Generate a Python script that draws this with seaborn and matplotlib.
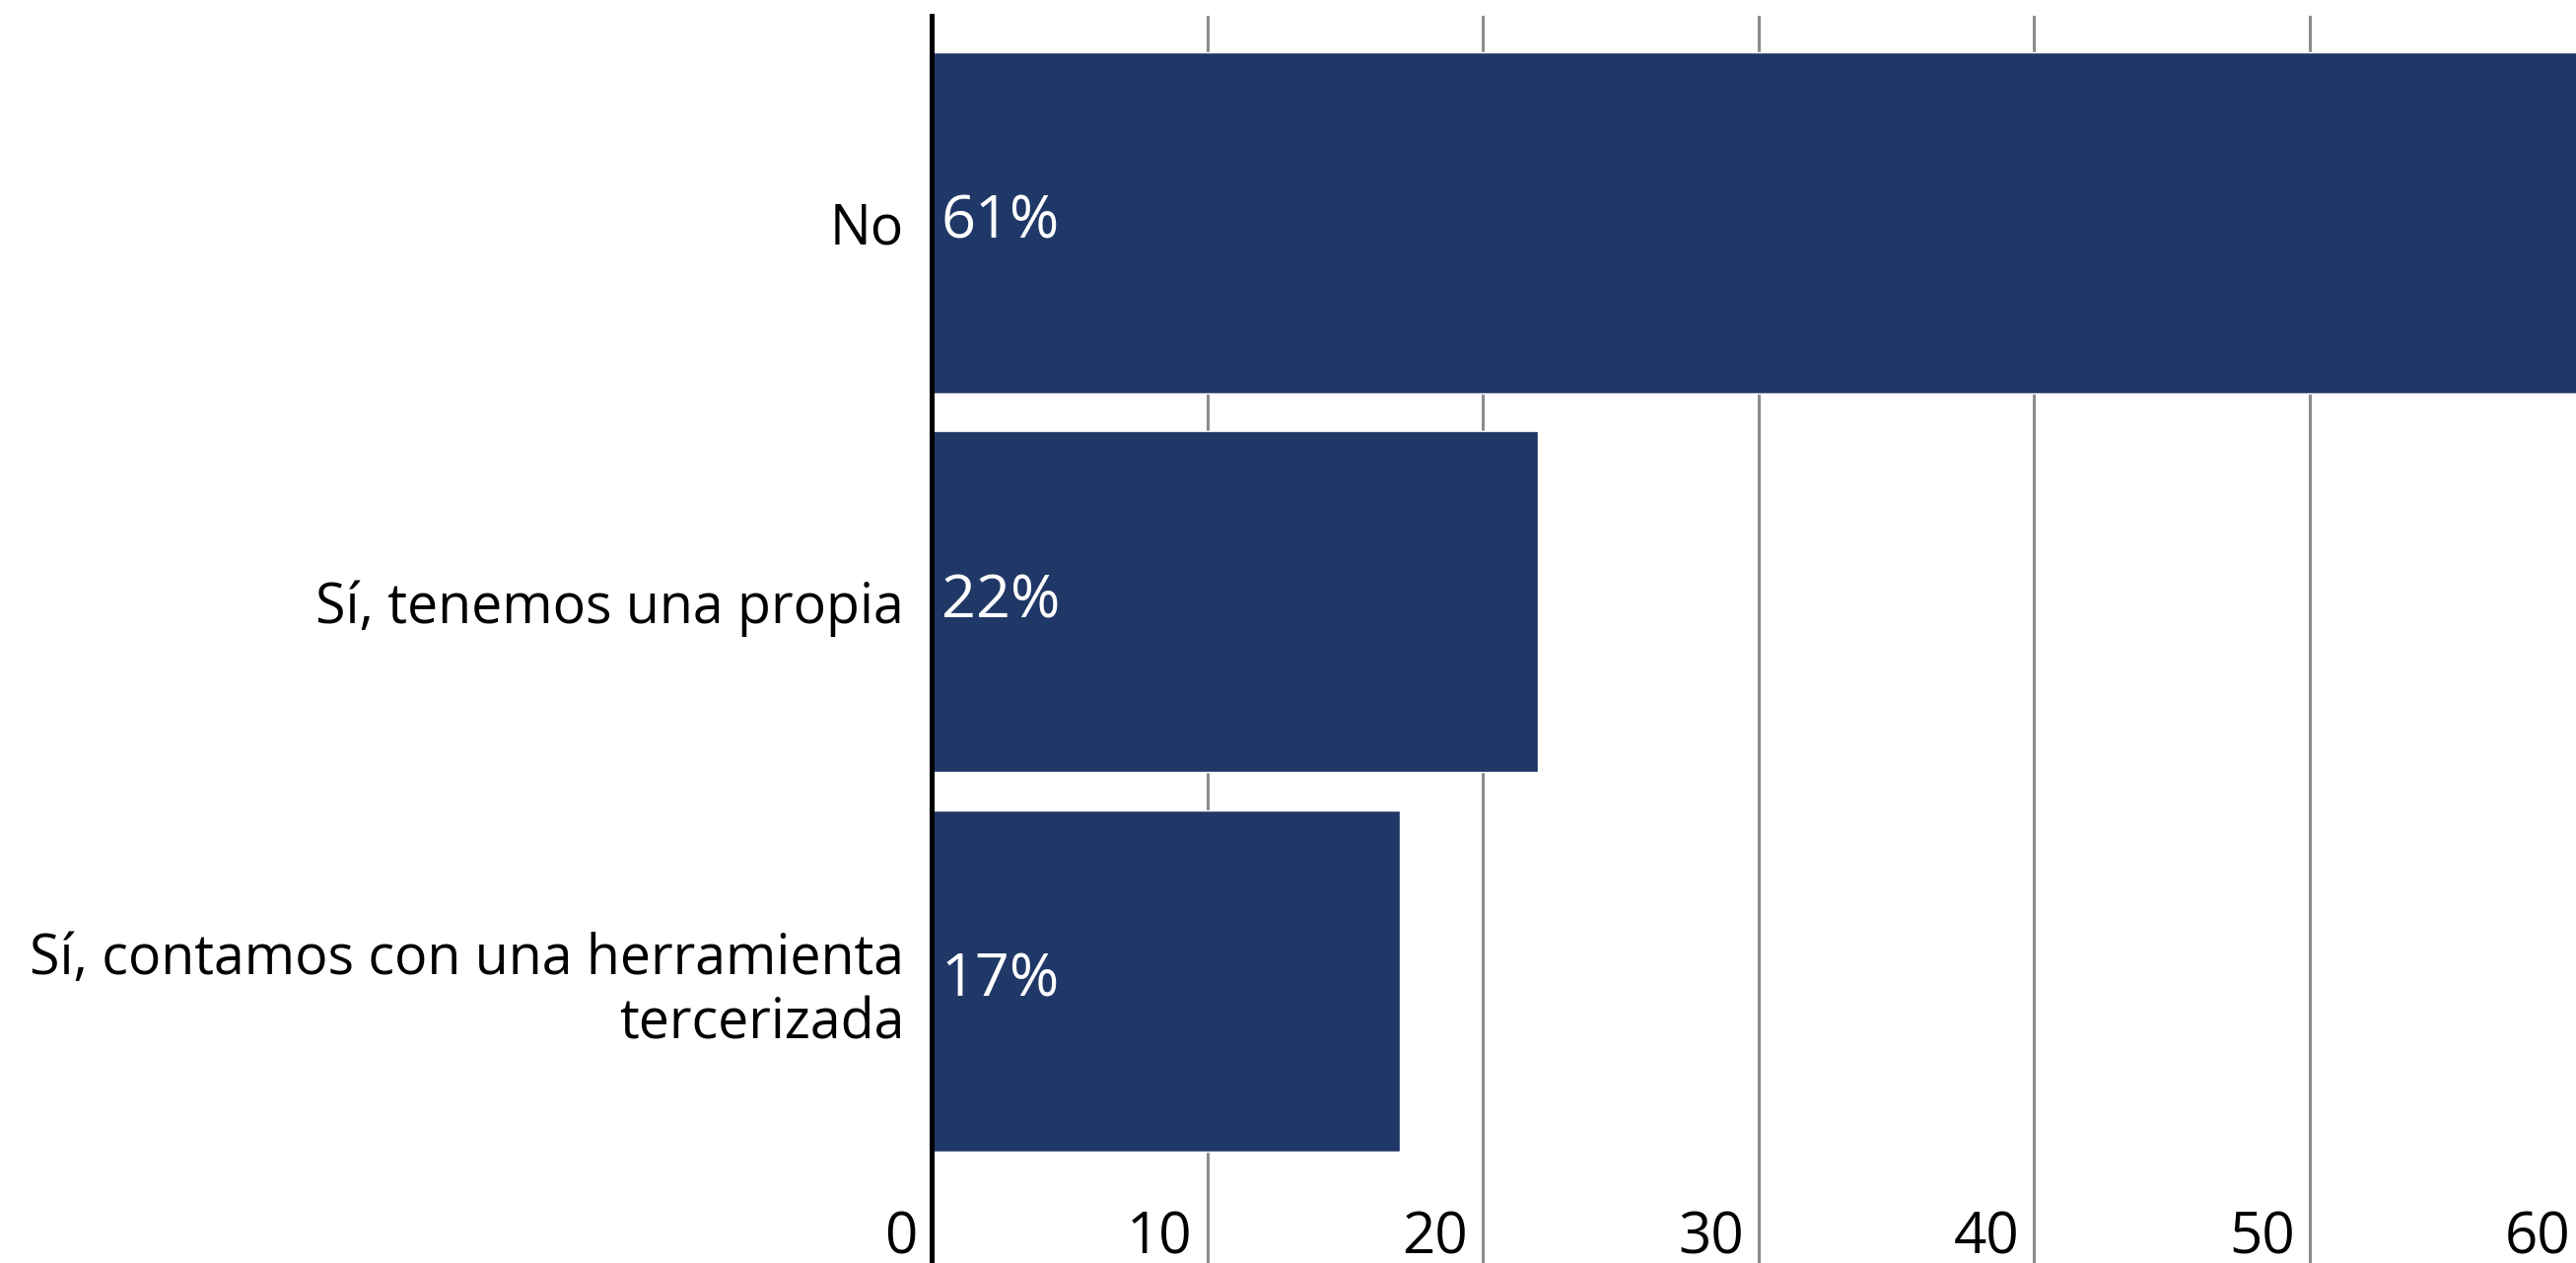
import pandas as pd
import seaborn as sns
import matplotlib.pyplot as plt
import matplotlib.transforms as mtransforms

# Data
categories = ["No", "Sí, tenemos una propia", "Sí, contamos con una herramienta\ntercerizada"]
values = [61, 22, 17]
value_labels = ["61%", "22%", "17%"]
x_ticks = [0, 10, 20, 30, 40, 50, 60]

BAR_COLOR = "#203867"
GRID_COLOR = "#8c8c8c"

sns.set_theme(style="white")
plt.rcParams["font.family"] = ["Open Sans", "DejaVu Sans"]

df = pd.DataFrame({"CATEGORY": categories, "VALUE": values})

fig = plt.figure(figsize=(26.13, 12.81), dpi=100)
# axes right edge runs slightly past the figure so the 60 tick sits off-canvas
ax = fig.add_axes([945 / 2613, 0.0, 1677.6 / 2613, 1265 / 1281])

sns.barplot(data=df, x="VALUE", y="CATEGORY", orient="h", color=BAR_COLOR,
            width=0.9, saturation=1, ax=ax)

ax.set_xlim(0, 60)
ax.set_ylim(2.744, -0.546)
ax.set_xlabel("")
ax.set_ylabel("")

# spines: only the left (black) one
for side in ["top", "right", "bottom"]:
    ax.spines[side].set_visible(False)
ax.spines["left"].set_color("black")
ax.spines["left"].set_linewidth(3.6)

# vertical gridlines behind the bars
ax.set_axisbelow(True)
ax.grid(axis="x", color=GRID_COLOR, linewidth=2.2)
ax.grid(axis="y", visible=False)

# category labels
ax.tick_params(axis="y", length=0, pad=20, labelsize=40, labelcolor="black")
for lab in ax.get_yticklabels():
    lab.set_linespacing(1.2)

# x tick labels drawn inside the axes, at the bottom, right-aligned to the gridline
ax.set_xticks(x_ticks)
ax.set_xticklabels([str(t) for t in x_ticks])
ax.tick_params(axis="x", length=0, pad=-6.5, labelsize=42, labelcolor="black")
shift = mtransforms.ScaledTranslation(-15 / 100, 0, fig.dpi_scale_trans)
for lab in ax.get_xticklabels():
    lab.set_ha("right")
    lab.set_va("baseline")
    lab.set_transform(lab.get_transform() + shift)

# value labels at the base of each bar
for i, txt in enumerate(value_labels):
    ax.annotate(txt, xy=(0, i), xytext=(7, 0), textcoords="offset points",
                ha="left", va="center", color="white", fontsize=44)

fig.savefig("out.png", dpi=100)
